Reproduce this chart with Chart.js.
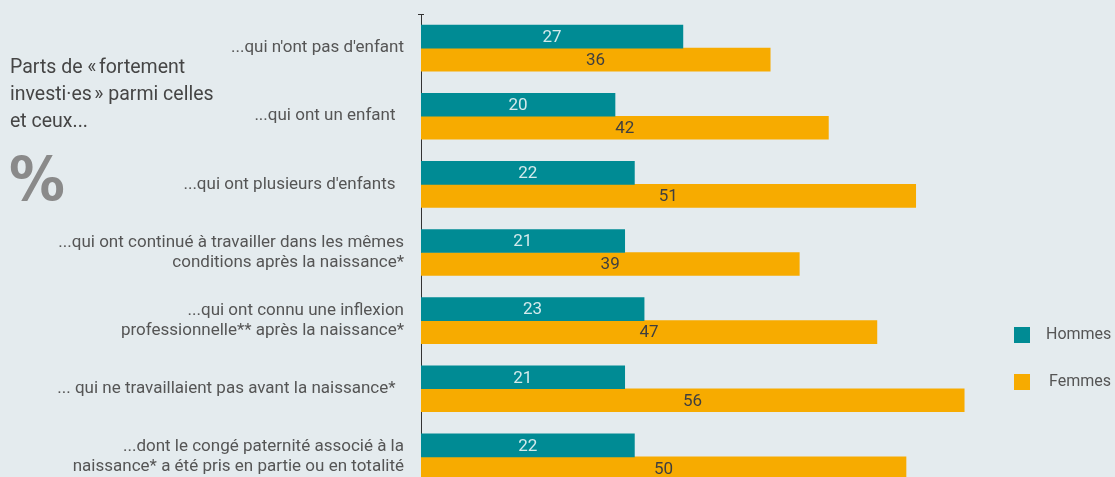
<!DOCTYPE html>
<html>
<head>
<meta charset="utf-8">
<script src="https://cdn.jsdelivr.net/npm/chart.js@4/dist/chart.umd.min.js"></script>
<style>
  html, body { margin: 0; padding: 0; background: #e4ebee; overflow: hidden; }
  .wrap { position: relative; width: 1115px; height: 477px; overflow: hidden; }
  canvas { position: absolute; left: 0; top: 0; }
  .title { position: absolute; left: 10px; top: 53px; font: 19.5px Roboto, sans-serif; line-height: 27px; color: #454545; }
  .pct { position: absolute; left: 9px; top: 149px; font: bold 60px "DejaVu Sans", sans-serif; line-height: 60px; color: #8a8a8a; transform: scaleX(0.93); transform-origin: left top; }
</style>
</head>
<body>
<div class="wrap">
  <canvas id="barChart" width="1115" height="500"></canvas>
  <div class="title">Parts de «&#8239;fortement<br>investi·es&#8239;» parmi celles<br>et ceux...</div>
  <div class="pct">%</div>
</div>
<script>
const categories = [
  "...qui n'ont pas d'enfant",
  "...qui ont un enfant  ",
  "...qui ont plusieurs d'enfants  ",
  ["...qui ont continué à travailler dans les mêmes", "conditions après la naissance*"],
  ["...qui ont connu une inflexion", "professionnelle** après la naissance*"],
  "... qui ne travaillaient pas avant la naissance*  ",
  ["...dont le congé paternité associé à la", "naissance* a été pris en partie ou en totalité"]
];
const hommes = [27, 20, 22, 21, 23, 21, 22];
const femmes = [36, 42, 51, 39, 47, 56, 50];
const seriesNames = ["Hommes", "Femmes"];

// value written in the middle of each bar
const valueLabels = {
  id: "valueLabels",
  afterDatasetsDraw(chart) {
    const ctx = chart.ctx;
    ctx.save();
    ctx.font = "17px Roboto, sans-serif";
    ctx.textAlign = "center";
    ctx.textBaseline = "middle";
    chart.data.datasets.forEach((ds, i) => {
      chart.getDatasetMeta(i).data.forEach((bar, j) => {
        ctx.fillStyle = i === 0 ? "#d3eaec" : "#3f3f3f";
        ctx.fillText(ds.data[j], (bar.x + bar.base) / 2, bar.y + 1);
      });
    });
    ctx.restore();
  }
};

// legend at the right, lower half + little tick on top of the axis
const sideLegend = {
  id: "sideLegend",
  afterDraw(chart) {
    const ctx = chart.ctx;
    const a = chart.chartArea;
    const x = a.right + 11;
    ctx.save();
    ctx.strokeStyle = "#333";
    ctx.lineWidth = 1;
    ctx.beginPath();
    ctx.moveTo(a.left - 3, a.top + 0.5);
    ctx.lineTo(a.left + 3, a.top + 0.5);
    ctx.stroke();
    ctx.font = "16px Roboto, sans-serif";
    ctx.textBaseline = "middle";
    chart.data.datasets.forEach((ds, i) => {
      const y = 335 + i * 47;
      ctx.fillStyle = ds.backgroundColor;
      ctx.fillRect(x, y - 8, 16, 16);
      ctx.fillStyle = "#555";
      ctx.fillText(ds.label, x + 32 + i * 3, y);
    });
    ctx.restore();
  }
};

new Chart(document.getElementById("barChart").getContext("2d"), {
  type: "bar",
  data: {
    labels: categories,
    datasets: [
      { label: seriesNames[0], data: hommes, backgroundColor: "#008b94", barThickness: 23 },
      { label: seriesNames[1], data: femmes, backgroundColor: "#f7ab00", barThickness: 23 }
    ]
  },
  options: {
    indexAxis: "y",
    responsive: false,
    animation: false,
    layout: { padding: { top: 14, bottom: 9, right: 112, left: 0 } },
    plugins: { legend: { display: false }, tooltip: { enabled: false } },
    scales: {
      x: { display: false, min: 0, max: 60 },
      y: {
        afterFit: (s) => { s.width = 421; s.paddingTop = 0; s.paddingBottom = 0; },
        grid: { display: false },
        border: { display: true, color: "#333", width: 1 },
        ticks: { color: "#555", padding: 9, font: { family: "Roboto", size: 17 } }
      }
    }
  },
  plugins: [valueLabels, sideLegend]
});
</script>
</body>
</html>
